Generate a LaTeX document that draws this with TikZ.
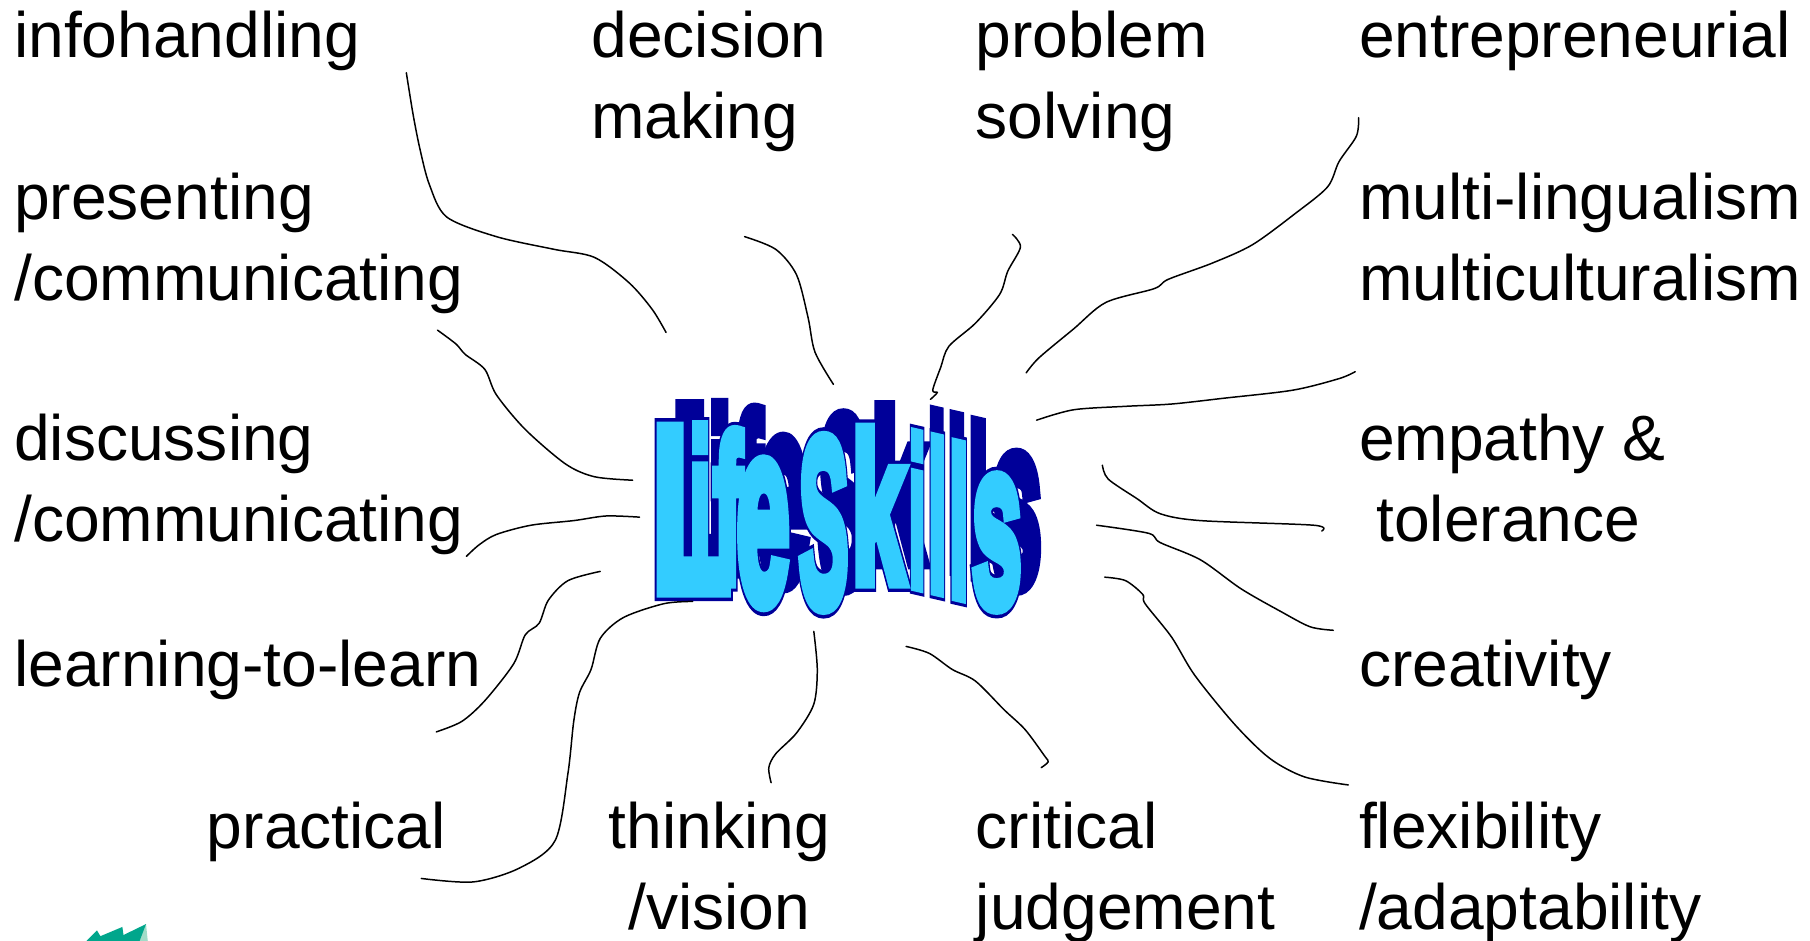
\documentclass[tikz,border=0pt]{standalone}
\usepackage{fontspec}
\usepackage{graphicx}
\setmainfont{Liberation Sans}
\definecolor{logo_teal}{RGB}{0,166,140}
\definecolor{logo_pale}{RGB}{160,220,200}
\newlength{\wordunit}
\setlength{\wordunit}{0.023087cm}
\tikzset{
  skilltext/.style={anchor=base west,inner sep=0pt,align=left,font=\fontsize{36.5}{46}\selectfont},
  sketchline/.style={black,line width=0.85pt,line cap=round,line join=round},
  waglyph/.style={inner sep=0pt,anchor=center,transform shape}
}
% one stretched letter: name, left, top, width, height, slant, letter, pdf colours
\newcommand{\waglyphnode}[8]{%
  \node[waglyph,yslant=#6] (#1) at ({#2+#4/2},{#3+#5/2})
    {\resizebox{#4\wordunit}{#5\wordunit}{\special{pdf:code #8}\bfseries #7\special{pdf:code 0 Tr}}};}
% the whole word
\newcommand{\lifeword}[2]{%
  \waglyphnode{#1L}{565}{372}{68}{139}{0}{L}{#2}
  \waglyphnode{#1i}{597}{370}{19}{132}{0}{i}{#2}
  \waglyphnode{#1f}{618}{374}{25}{130}{0}{f}{#2}
  \waglyphnode{#1e}{638}{402}{46}{120}{0}{e}{#2}
  \waglyphnode{#1S}{692}{381}{43}{144}{0}{S}{#2}
  \waglyphnode{#1k}{738}{372}{46}{132}{0}{k}{#2}
  \waglyphnode{#1ii}{787}{377}{15}{130}{-0.23}{i}{#2}
  \waglyphnode{#1l}{804}{381}{16}{130}{-0.23}{l}{#2}
  \waglyphnode{#1ll}{822}{386}{17}{130}{-0.23}{l}{#2}
  \waglyphnode{#1s}{842}{415}{43}{110}{0}{s}{#2}}
\begin{document}
\begin{tikzpicture}[x=0.023087cm,y=-0.023087cm]
  \useasboundingbox (0,0) rectangle (1568,815);
  %labels
  \node[skilltext] (info) at (12,50) {infohandling};
  \node[skilltext] (decision) at (512,120) {decision\\making};
  \node[skilltext] (problem) at (845,120) {problem\\solving};
  \node[skilltext] (entre) at (1177,50) {entrepreneurial};
  \node[skilltext] (present) at (12,260) {presenting\\/communicating};
  \node[skilltext] (multi) at (1177,260) {multi-lingualism\\multiculturalism};
  \node[skilltext] (discuss) at (12,469) {discussing\\/communicating};
  \node[skilltext] (empathy) at (1177,469) {empathy \&\\\hspace*{15\wordunit}tolerance};
  \node[skilltext] (learn) at (12,595) {learning-to-learn};
  \node[skilltext] (creative) at (1177,595) {creativity};
  \node[skilltext] (practical) at (179,735) {practical};
  \node[skilltext,align=center] (thinking) at (527,805) {thinking\\/vision};
  \node[skilltext] (critical) at (845,805) {critical\\judgement};
  \node[skilltext] (flex) at (1177,805) {flexibility\\/adaptability};
  %word in the middle
  \begin{scope}[shift={(17,-18)}]
    \lifeword{back}{0 0 0.6 rg 0 0 0.6 RG 2 Tr 0.8 w}
  \end{scope}
  \lifeword{edge}{0 0 0.6 rg 0 0 0.6 RG 2 Tr 0.95 w}
  \lifeword{front}{0.2 0.8 1 rg 0.2 0.8 1 RG 2 Tr 0.65 w}
  %free ends of the lines
  \coordinate (infoA) at (352,63);      \coordinate (infoB) at (577,288);
  \coordinate (decisionA) at (645,205); \coordinate (decisionB) at (722,333);
  \coordinate (problemA) at (877,203);  \coordinate (problemB) at (806,346);
  \coordinate (entreA) at (1177,102);   \coordinate (entreB) at (889,323);
  \coordinate (multiA) at (1174,322);   \coordinate (multiB) at (898,364);
  \coordinate (empathyA) at (1145,460); \coordinate (empathyB) at (955,403);
  \coordinate (creativeA) at (1155,546);\coordinate (creativeB) at (950,455);
  \coordinate (flexA) at (1168,680);    \coordinate (flexB) at (957,500);
  \coordinate (criticalA) at (902,665); \coordinate (criticalB) at (785,560);
  \coordinate (thinkingA) at (668,678); \coordinate (thinkingB) at (705,547);
  \coordinate (practicalA) at (365,761);\coordinate (practicalB) at (600,521);
  \coordinate (learnA) at (378,634);    \coordinate (learnB) at (520,495);
  \coordinate (discussA) at (404,482);  \coordinate (discussB) at (554,448);
  \coordinate (presentA) at (379,286);  \coordinate (presentB) at (548,416);
  %hand drawn lines
  \draw[sketchline] plot[smooth,tension=0.5] coordinates {(infoA) (358,100) (364,130) (372,160) (387,188) (430,205) (480,216) (515,223) (545,245) (565,268) (infoB)};
  \draw[sketchline] plot[smooth,tension=0.5] coordinates {(decisionA) (672,216) (690,238) (700,275) (706,305) (decisionB)};
  \draw[sketchline] plot[smooth,tension=0.5] coordinates {(problemA) (884,214) (873,235) (866,255) (845,280) (822,300) (815,318) (808,338) (812,340) (problemB)};
  \draw[sketchline] plot[smooth,tension=0.5] coordinates {(entreA) (1175,118) (1160,140) (1150,162) (1122,185) (1085,212) (1050,228) (1012,242) (1000,250) (958,262) (930,285) (900,310) (entreB)};
  \draw[sketchline] plot[smooth,tension=0.5] coordinates {(multiA) (1160,328) (1120,338) (1060,345) (1015,350) (975,352) (930,355) (multiB)};
  \draw[sketchline] plot[smooth,tension=0.5] coordinates {(empathyA) (1138,455) (1040,451) (1005,445) (985,432) (960,415) (empathyB)};
  \draw[sketchline] plot[smooth,tension=0.5] coordinates {(creativeA) (1135,543) (1110,530) (1075,510) (1040,485) (1005,470) (995,462) (creativeB)};
  \draw[sketchline] plot[smooth,tension=0.5] coordinates {(flexA) (1130,673) (1100,657) (1070,628) (1035,585) (1015,552) (992,523) (990,515) (975,503) (flexB)};
  \draw[sketchline] plot[smooth,tension=0.5] coordinates {(criticalA) (908,660) (905,655) (888,632) (870,615) (845,590) (825,580) (805,566) (criticalB)};
  \draw[sketchline] plot[smooth,tension=0.5] coordinates {(thinkingA) (666,665) (672,653) (690,635) (705,610) (708,580) (thinkingB)};
  \draw[sketchline] plot[smooth,tension=0.5] coordinates {(practicalA) (410,764) (450,752) (481,728) (492,670) (497,625) (502,600) (512,580) (520,553) (540,535) (575,523) (practicalB)};
  \draw[sketchline] plot[smooth,tension=0.5] coordinates {(learnA) (400,625) (420,607) (445,575) (455,550) (467,540) (475,520) (492,503) (learnB)};
  \draw[sketchline] plot[smooth,tension=0.5] coordinates {(discussA) (415,472) (430,463) (460,455) (497,451) (525,447) (discussB)};
  \draw[sketchline] plot[smooth,tension=0.5] coordinates {(presentA) (395,298) (403,307) (420,320) (430,342) (455,372) (490,402) (515,413) (presentB)};
  %corner of the logo
  \fill[logo_pale] (126.5,800.5)--(128,815)--(119,815)--cycle;
  \fill[logo_teal] (75,815)--(84,806)--(87,811)--(106,803)--(107,810)--(126.5,800.5)--(121,815)--cycle;
\end{tikzpicture}
\end{document}
